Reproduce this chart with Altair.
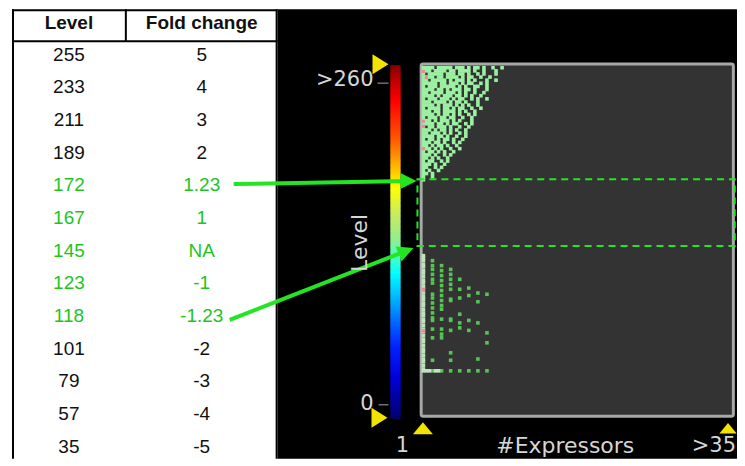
import altair as alt
import pandas as pd

# ---------------- data ----------------
TABLE_HEADERS = ["Level", "Fold change"]
TABLE_LEVELS = ["255", "233", "211", "189", "172", "167", "145", "123", "118", "101", "79", "57", "35"]
TABLE_FOLDS = ["5", "4", "3", "2", "1.23", "1", "NA", "-1", "-1.23", "-2", "-3", "-4", "-5"]
TABLE_GREEN = [False, False, False, False, True, True, True, True, True, False, False, False, False]

X_DOMAIN = [1, 35]
Y_DOMAIN = [-12, 272]
Y_TICKS = [260, 0]
Y_TICK_TEXT = [">260", "0"]
X_TICK_TEXT = ["1", "#Expressors", ">35"]
Y_TITLE = "Level"

# colour bar stops (level -> colour)
CBAR_STOPS = [-12, 21, 45, 67, 83, 104, 115, 131, 152, 173, 197, 213, 243, 259, 272]
CBAR_COLORS = ["#00006e", "#0000dd", "#0022ff", "#0070ff", "#00b0ff", "#00ffff", "#40ffcc",
               "#90ee90", "#c8ec60", "#ffff00", "#ff9900", "#ff5500", "#ff0000", "#c00000", "#800000"]

# highlighted level band (dashed box)
BAND_LOW, BAND_HIGH = 126.8, 180.5

# upper cluster: one string per level row, each char = 1/3 expressor step from x = 1
UPPER_LEVELS = [270, 267.5, 265, 262.5, 260, 257.5, 255, 252.5, 250, 247.5, 245, 242.5, 240,
                237.5, 235, 232.5, 230, 227.5, 225, 222.5, 220, 217.5, 215, 212.5, 210, 207.5,
                205, 202.5, 200, 197.5, 195, 192.5, 190, 187.5, 185, 182.5, 180]
UPPER_ROWS = [
    "####.#####.###.#.##.#..#..#",
    "###.####.##.####.#..#...#",
    "#.#####.###.##.#..#.#...#",
    "####.##.####.#.##..#..#",
    "##.#####.#.###.#.#...#..#",
    "#####.##.###.#.##..#.#",
    "#.###.#####.#.#..##..#",
    "####.##.#.###.##.#...#",
    "##.####.###.#.#..#..#",
    "####.#.###.##.#.#..#",
    "#.###.###.#.##..#.#..#",
    "###.####.#.##.#...#",
    "####.#.###.#.#.#..#",
    "#.####.##.#.##..#..#",
    "###.##.####.#.#..#",
    "####.#.##.#.#..#.#",
    "#.###.##.##..#..#",
    "###.#.###.#.#...#",
    "####.##.#.##..#.#",
    "#.##.###.#..#..#",
    "###.#.##.#.#..#",
    "##.###.#.#..#.#",
    "####.##.#..#..#",
    "#.##.#.##.#..#",
    "###.##.#..#.#",
    "##.#.##.#..#",
    "###.#.#..#..#",
    "#.##.#.#..#",
    "###.#..#.#",
    "##.#.#..#",
    "#.##..#.#",
    "###.#..#",
    "##..#.#",
    "#.#..#",
    "##.#",
    "#..#",
    "#",
]

# lower cluster: levels per expressor count
LOWER = {
    1: [119, 117, 115, 112, 110, 107, 105, 102, 99, 97, 94, 92, 89, 86, 84, 81, 79, 76, 73, 71,
        68, 66, 63, 60, 58, 55, 52, 50, 47, 44, 42, 39, 36, 34, 31, 28, 26.5],
    2: [115, 111, 108, 104, 100, 97, 88, 85, 81, 77, 73, 69, 67, 60, 53, 35, 26.5],
    3: [111, 107, 103, 99, 95, 91, 87, 83, 79, 76, 68, 60, 56, 53, 26.5],
    4: [108, 104, 100, 96, 92, 84, 83, 68, 67, 59, 41, 35, 26.5],
    5: [100, 92, 85, 72, 65, 61, 26.5],
    6: [93, 87, 67, 59, 26.5],
    7: [89, 82, 65, 36, 26.5],
    8: [88, 57, 49, 26.5],
}
BOTTOM_ROW_X = [1.33, 1.67, 2.33, 2.67]
BOTTOM_ROW_LEVEL = 26.5
PINK_X = [1, 1, 1, 1, 1, 1.33, 1]
PINK_LEVEL = [267, 227, 223, 205, 92, 262, 58.6]

# ---------------- frames ----------------
upper = []
for lvl, row in zip(UPPER_LEVELS, UPPER_ROWS):
    for k, ch in enumerate(row):
        if ch == "#":
            upper.append({"expr": 1 + k / 3, "level": lvl})
upper_df = pd.DataFrame(upper)

lower = []
for col, lvls in LOWER.items():
    for lv in lvls:
        lower.append({"expr": col, "level": lv, "first": col == 1})
for xx in BOTTOM_ROW_X:
    lower.append({"expr": xx, "level": BOTTOM_ROW_LEVEL, "first": True})
lower_df = pd.DataFrame(lower)
pink_df = pd.DataFrame({"expr": PINK_X, "level": PINK_LEVEL})

one = pd.DataFrame({"k": [0]})

BLACK_TEXT = "#111111"
GREEN_TEXT = "#1fc41f"
ARROW = "#22e622"
LABEL = "#d6d6d6"
YELLOW = "#f2e400"

# ---------------- table ----------------
rows = []
for i, (lv, fc, g) in enumerate(zip(TABLE_LEVELS, TABLE_FOLDS, TABLE_GREEN)):
    c = GREEN_TEXT if g else BLACK_TEXT
    rows.append({"row": i, "col": 0, "t": lv, "c": c})
    rows.append({"row": i, "col": 1, "t": fc, "c": c})
table_df = pd.DataFrame(rows)
head_df = pd.DataFrame({"row": [-0.96, -0.96], "col": [0, 1], "t": TABLE_HEADERS})

TX = alt.Scale(domain=[0, 1], range=[57, 190], nice=False, zero=False)
TY = alt.Scale(domain=[0, 12], range=[45.5, 438], nice=False, zero=False)

body = alt.Chart(table_df).mark_text(font="Liberation Sans", fontSize=19, baseline="middle",
                                     align="center").encode(
    x=alt.X("col:Q", scale=TX, axis=None),
    y=alt.Y("row:Q", scale=TY, axis=None),
    text="t:N",
    color=alt.Color("c:N", scale=None),
)
head = alt.Chart(head_df).mark_text(font="Liberation Sans", fontSize=19, fontWeight="bold",
                                    baseline="middle", align="center", color=BLACK_TEXT).encode(
    x=alt.X("col:Q", scale=TX, axis=None),
    y=alt.Y("row:Q", scale=TY, axis=None),
    text="t:N",
)


def vrule(x, y1, y2, color="black", w=2):
    return alt.Chart(one).mark_rule(color=color, strokeWidth=w).encode(
        x=alt.value(x), y=alt.value(y1), y2=alt.value(y2))


def hrule(x1, x2, y, color="black", w=2):
    return alt.Chart(one).mark_rule(color=color, strokeWidth=w).encode(
        x=alt.value(x1), x2=alt.value(x2), y=alt.value(y))


table = alt.layer(
    body, head,
    vrule(1, 0, 450), vrule(265, 0, 450), hrule(0, 266, 1), hrule(0, 266, 32), vrule(114, 0, 32),
).properties(width=266, height=450, view=alt.ViewBackground(fill="white"))

# ---------------- right panel ----------------
XS = alt.Scale(domain=X_DOMAIN, range=[146, 455], nice=False, zero=False)
YS = alt.Scale(domain=Y_DOMAIN, range=[410, 56], nice=False, zero=False)

frame = alt.Chart(pd.DataFrame({"x": [0.75], "x2": [35.15], "y": [-10], "y2": [273]})).mark_rect(
    fill="#333333", stroke="#a8a8a8", strokeWidth=3, cornerRadius=2).encode(
    x=alt.X("x:Q", scale=XS, axis=None), x2="x2:Q",
    y=alt.Y("y:Q", scale=YS, axis=None), y2="y2:Q")

cbar_df = pd.DataFrame({"lvl": list(range(Y_DOMAIN[0], Y_DOMAIN[1]))})
cbar_df["lvl2"] = (cbar_df["lvl"] + 1.8).clip(upper=Y_DOMAIN[1])
cbar = alt.Chart(cbar_df).mark_rect().encode(
    x=alt.value(113), x2=alt.value(123),
    y=alt.Y("lvl:Q", scale=YS, axis=None), y2="lvl2:Q",
    color=alt.Color("lvl:Q", scale=alt.Scale(domain=CBAR_STOPS, range=CBAR_COLORS,
                                              interpolate="rgb"), legend=None),
)

pts_up = alt.Chart(upper_df).mark_square(size=13, color="#9cf0a2", opacity=1).encode(
    x=alt.X("expr:Q", scale=XS, axis=None), y=alt.Y("level:Q", scale=YS, axis=None))
pts_low = alt.Chart(lower_df).mark_square(size=13, opacity=1).encode(
    x=alt.X("expr:Q", scale=XS, axis=None), y=alt.Y("level:Q", scale=YS, axis=None),
    color=alt.condition("datum.first", alt.value("#bfe3bf"), alt.value("#55c455")))
pts_pink = alt.Chart(pink_df).mark_square(size=10, color="#e88a9a", opacity=1).encode(
    x=alt.X("expr:Q", scale=XS, axis=None), y=alt.Y("level:Q", scale=YS, axis=None))

band = alt.Chart(pd.DataFrame({"x": [0.34], "x2": [35.3], "y": [BAND_LOW], "y2": [BAND_HIGH]})).mark_rect(
    fillOpacity=0, stroke=ARROW, strokeWidth=2, strokeDash=[7, 5]).encode(
    x=alt.X("x:Q", scale=XS, axis=None), x2="x2:Q",
    y=alt.Y("y:Q", scale=YS, axis=None), y2="y2:Q")


def shaft(x1, y1, x2, y2):
    return alt.Chart(one).mark_rule(color=ARROW, strokeWidth=4).encode(
        x=alt.value(x1), y=alt.value(y1), x2=alt.value(x2), y2=alt.value(y2))


def head_mark(x, y, angle):
    return alt.Chart(one).mark_point(shape="M-1,-1L1,0L-1,1Z", filled=True, size=256, color=ARROW,
                                     opacity=1, angle=angle).encode(x=alt.value(x), y=alt.value(y))


def tri(x, y, shape, size):
    return alt.Chart(one).mark_point(shape=shape, filled=True, size=size, color=YELLOW,
                                     opacity=1).encode(x=alt.value(x), y=alt.value(y))


ylab = alt.Chart(pd.DataFrame({"lvl": Y_TICKS, "t": Y_TICK_TEXT})).mark_text(
    align="right", baseline="middle", fontSize=21, font="DejaVu Sans", color=LABEL).encode(
    x=alt.value(96), y=alt.Y("lvl:Q", scale=YS, axis=None), text="t:N")


def label(x, y, t, align="center", size=21, angle=0):
    return alt.Chart(pd.DataFrame({"t": [t]})).mark_text(
        align=align, baseline="middle", fontSize=size, font="DejaVu Sans", color=LABEL,
        angle=angle).encode(x=alt.value(x), y=alt.value(y), text="t:N")


panel = alt.layer(
    frame, cbar,
    hrule(100, 111, 74, color="#707070", w=1.5), hrule(101, 111, 396, color="#707070", w=1.5),
    pts_up, pts_low, pts_pink, band,
    shaft(-44, 175, 131, 172), head_mark(131, 172, 0),
    shaft(-48, 311, 128.6, 242), head_mark(128.6, 242, 338),
    tri(103, 55, "M-0.8,-1L0.8,0L-0.8,1Z", 400), tri(102, 409, "M-0.8,-1L0.8,0L-0.8,1Z", 400),
    tri(145.5, 419.5, "M-1,0.6L1,0.6L0,-0.6Z", 400), tri(451, 419.5, "M-1,0.6L1,0.6L0,-0.6Z", 300),
    ylab,
    label(125, 437, X_TICK_TEXT[0]), label(288, 437, X_TICK_TEXT[1], size=22),
    label(459, 437, X_TICK_TEXT[2], align="right"),
    label(82, 234, Y_TITLE, size=22, angle=270),
).properties(width=460, height=450, view=alt.ViewBackground(fill="black"))

chart = alt.hconcat(
    table, panel, spacing=0, bounds="flush",
    padding={"left": 3, "top": 0, "right": 0, "bottom": 0}, background="white",
).configure_view(strokeWidth=0)

chart.save("out.html", embed_options={"renderer": "svg", "actions": False})
